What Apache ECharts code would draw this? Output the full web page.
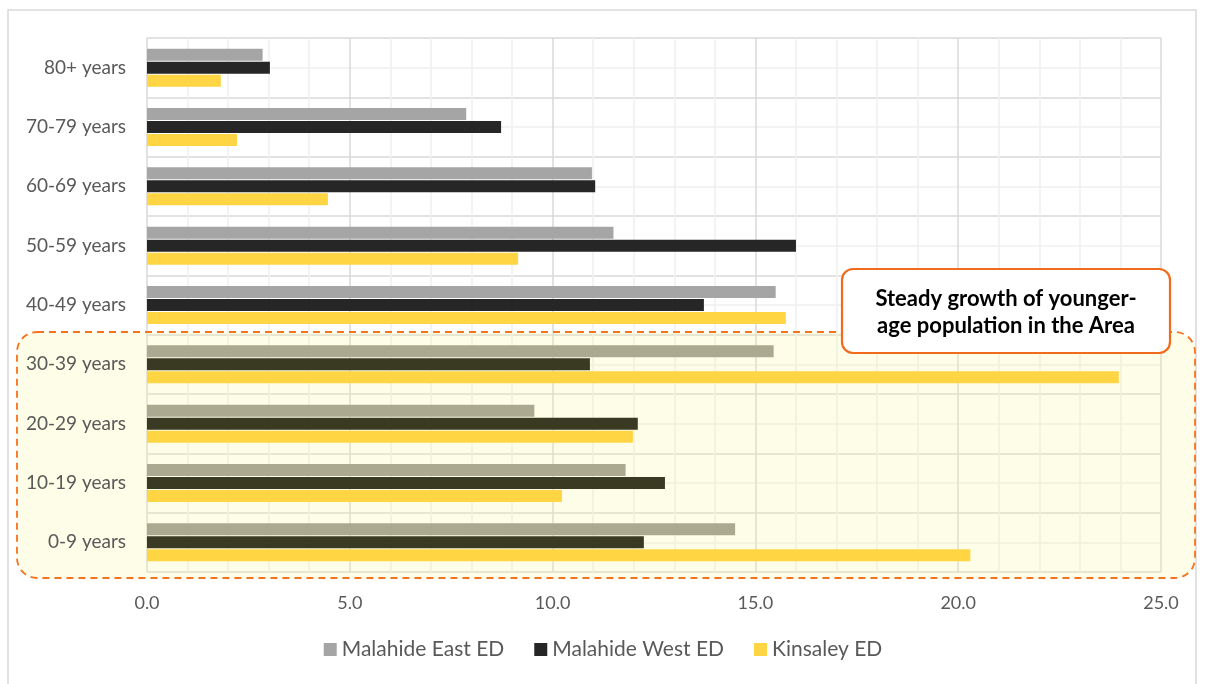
<!DOCTYPE html>
<html>
<head>
<meta charset="utf-8">
<title>Age profile</title>
<script src="https://cdn.jsdelivr.net/npm/echarts@6/dist/echarts.min.js"></script>
<style>
html, body { margin: 0; padding: 0; background: #fff; }
#chart { width: 1206px; height: 684px; }
</style>
</head>
<body>
<div id="chart"></div>
<script>
// 年龄段（从下往上）
var ageGroups = ['0-9 years', '10-19 years', '20-29 years', '30-39 years', '40-49 years',
	'50-59 years', '60-69 years', '70-79 years', '80+ years'];
var seriesNames = ['Malahide East ED', 'Malahide West ED', 'Kinsaley ED'];
var eastVals = [14.5, 11.8, 9.55, 15.45, 15.5, 11.5, 10.97, 7.87, 2.85];
var westVals = [12.25, 12.77, 12.1, 10.92, 13.73, 16.0, 11.05, 8.73, 3.03];
var kinsaleyVals = [20.3, 10.23, 11.98, 23.96, 15.75, 9.15, 4.46, 2.22, 1.82];
var xTicks = [0, 5, 10, 15, 20, 25];
var noteText = 'Steady growth of younger-\nage population in the Area';

var highlighted = 4; // 前四个年龄段在高亮框内
var baseColors = ['#a5a5a5', '#262626', '#ffd543'];
var tintColors = ['#abaa91', '#3a3a23', '#ffd543'];

function buildData(vals, k) {
	var out = [];
	for (var i = 0; i < vals.length; i++) {
		out.push({
			value: vals[i],
			itemStyle: { color: i < highlighted ? tintColors[k] : baseColors[k] }
		});
	}
	return out;
}

var font = 'Lato, "Open Sans", sans-serif';
var myChart = echarts.init(document.getElementById('chart'));
var valSets = [eastVals, westVals, kinsaleyVals];
var series = [];
for (var k = 0; k < 3; k++) {
	series.push({
		name: seriesNames[k],
		type: 'bar',
		yAxisIndex: 0,
		barWidth: 12,
		barGap: '8%',
		z: 3,
		itemStyle: { color: baseColors[k] },
		data: buildData(valSets[k], k)
	});
}

var option = {
	animation: false,
	backgroundColor: '#fff',
	grid: { left: 147, right: 45, top: 38, bottom: 112, containLabel: false },
	legend: {
		data: seriesNames,
		bottom: 19,
		left: 'center',
		itemWidth: 13,
		itemHeight: 13,
		itemGap: 30,
		icon: 'rect',
		textStyle: { fontSize: 21, color: '#595959', fontFamily: font, padding: [0, 0, 0, 0] }
	},
	xAxis: {
		type: 'value',
		min: 0,
		max: 25,
		interval: 5,
		axisLine: { show: false },
		axisTick: { show: false },
		axisLabel: {
			color: '#595959', fontSize: 18, fontFamily: font, margin: 22,
			formatter: function (v) { return v.toFixed(1); }
		},
		splitLine: { show: true, lineStyle: { color: '#d9d9d9', width: 1.5 } },
		minorTick: { show: false, splitNumber: 5 },
		minorSplitLine: { show: true, lineStyle: { color: '#efefef', width: 1.5 } }
	},
	yAxis: [{
		type: 'category',
		data: ageGroups,
		z: 6,
		axisLine: { show: false },
		axisTick: { show: false },
		splitLine: { show: false },
		axisLabel: { color: '#595959', fontSize: 19, fontFamily: font, margin: 21 }
	}, {
		type: 'value',
		min: 0,
		max: 9,
		interval: 1,
		position: 'right',
		axisLine: { show: false },
		axisTick: { show: false },
		axisLabel: { show: false },
		splitLine: { show: true, lineStyle: { color: '#d9d9d9', width: 1.5 } },
		minorTick: { show: false, splitNumber: 2 },
		minorSplitLine: { show: true, lineStyle: { color: '#efefef', width: 1.5 } }
	}],
	graphic: [
		{
			type: 'rect', z: -10, silent: true,
			shape: { x: 8, y: 10, width: 1188, height: 700 },
			style: { fill: 'none', stroke: '#d9d9d9', lineWidth: 1.5 }
		},
		{
			type: 'rect', z: 1, silent: true,
			shape: { x: 17, y: 332, width: 1178, height: 246, r: 20 },
			style: {
				fill: 'rgba(250,248,150,0.22)',
				stroke: '#f5731f', lineWidth: 1.8, lineDash: [7, 5]
			}
		},
		{
			type: 'rect', z: 10, silent: true,
			shape: { x: 842, y: 269, width: 328, height: 84, r: 11 },
			style: { fill: '#fff', stroke: '#f26a1b', lineWidth: 2.2 }
		},
		{
			type: 'text', z: 11, silent: true,
			x: 1006, y: 312,
			style: {
				text: noteText, align: 'center', verticalAlign: 'middle',
				fill: '#000', fontSize: 22, fontWeight: 'bold', fontFamily: font, lineHeight: 27
			}
		}
	],
	series: series
};
myChart.setOption(option);
</script>
</body>
</html>
